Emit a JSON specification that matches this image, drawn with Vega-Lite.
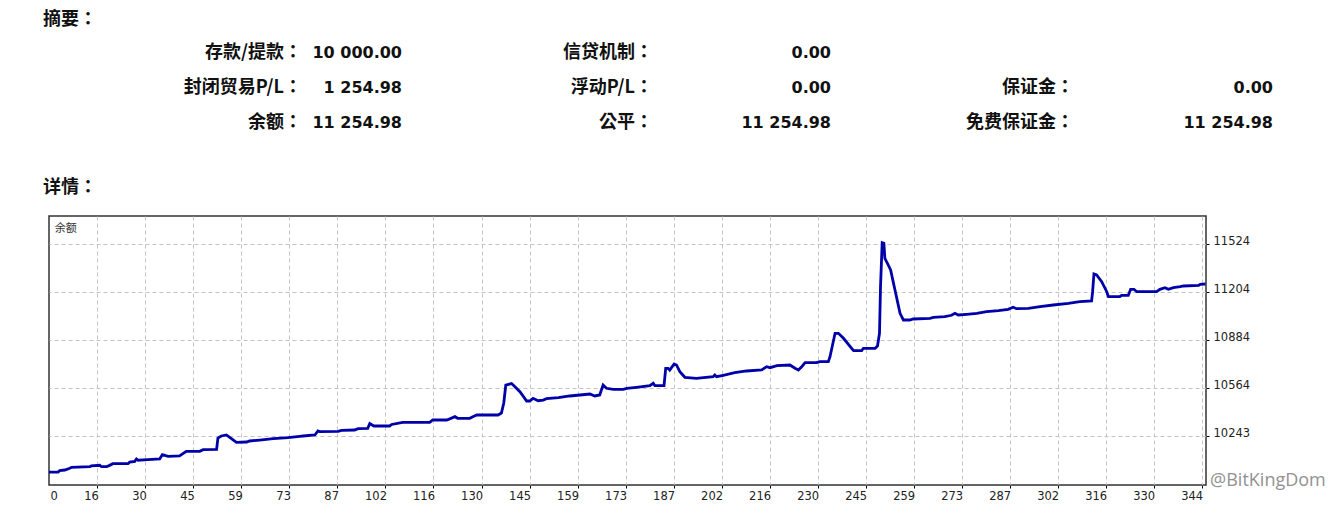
{
  "$schema": "https://vega.github.io/schema/vega-lite/v6.json",
  "width": 1157,
  "height": 269,
  "autosize": {"type": "none"},
  "padding": {"left": 49, "top": 216, "right": 138, "bottom": 30},
  "background": "white",
  "config": {"view": {"stroke": "#333333", "strokeWidth": 1.5}},
  "resolve": {"scale": {"x": "independent", "y": "independent"}},
  "layer": [
    {
      "layer": [
        {
          "data": {"values": [
            {"trade":1.6,"balance":10000},{"trade":4.3,"balance":10000},{"trade":4.8,"balance":10009.5},{"trade":6.3,"balance":10014},{"trade":7.8,"balance":10025.5},{"trade":8.3,"balance":10032},{"trade":13.7,"balance":10036},{"trade":14.2,"balance":10041},{"trade":16.7,"balance":10045.5},{"trade":17.2,"balance":10036},{"trade":18.7,"balance":10036},{"trade":19.6,"balance":10045},{"trade":20.6,"balance":10056},{"trade":25.1,"balance":10056},{"trade":25.6,"balance":10067.5},{"trade":27.1,"balance":10072},{"trade":27.6,"balance":10087.6},{"trade":28.1,"balance":10079},{"trade":31.0,"balance":10083},{"trade":34.5,"balance":10087.6},{"trade":35.3,"balance":10116},{"trade":36.0,"balance":10112},{"trade":37.0,"balance":10105.5},{"trade":40.4,"balance":10107.6},{"trade":42.4,"balance":10139},{"trade":46.4,"balance":10139},{"trade":47.4,"balance":10149.6},{"trade":51.4,"balance":10152},{"trade":51.8,"balance":10227.7},{"trade":52.8,"balance":10241},{"trade":54.3,"balance":10247.7},{"trade":55.8,"balance":10223},{"trade":57.3,"balance":10199},{"trade":60.3,"balance":10201},{"trade":61.2,"balance":10207.6},{"trade":64.2,"balance":10214},{"trade":68.2,"balance":10223},{"trade":72.6,"balance":10229.7},{"trade":76.1,"balance":10239},{"trade":77.1,"balance":10241},{"trade":80.6,"balance":10247.7},{"trade":81.5,"balance":10274.4},{"trade":82.0,"balance":10270},{"trade":87.5,"balance":10272.4},{"trade":88.5,"balance":10279},{"trade":92.4,"balance":10281},{"trade":93.4,"balance":10289.7},{"trade":96.3,"balance":10292},{"trade":96.9,"balance":10324.4},{"trade":98.1,"balance":10307.7},{"trade":102.8,"balance":10307.7},{"trade":103.4,"balance":10317.7},{"trade":106.7,"balance":10332.4},{"trade":114.7,"balance":10332.4},{"trade":115.6,"balance":10347.8},{"trade":119.8,"balance":10347.8},{"trade":122.2,"balance":10369.8},{"trade":123.0,"balance":10359},{"trade":126.6,"balance":10359},{"trade":127.5,"balance":10369.8},{"trade":128.7,"balance":10381},{"trade":135.0,"balance":10381},{"trade":136.0,"balance":10394.5},{"trade":136.7,"balance":10461},{"trade":137.3,"balance":10581},{"trade":139.0,"balance":10591},{"trade":139.5,"balance":10581},{"trade":141.5,"balance":10536.6},{"trade":143.5,"balance":10474.5},{"trade":144.4,"balance":10474.5},{"trade":145.4,"balance":10492.5},{"trade":146.9,"balance":10476.5},{"trade":148.4,"balance":10481},{"trade":149.4,"balance":10489.9},{"trade":152.9,"balance":10496.6},{"trade":156.3,"balance":10507.9},{"trade":162.3,"balance":10521.2},{"trade":163.7,"balance":10507.9},{"trade":165.2,"balance":10514.6},{"trade":166.2,"balance":10581},{"trade":167.2,"balance":10559.3},{"trade":169.2,"balance":10552.6},{"trade":172.2,"balance":10552.6},{"trade":173.2,"balance":10559.3},{"trade":176.1,"balance":10566},{"trade":180.1,"balance":10576.6},{"trade":181.1,"balance":10592.6},{"trade":181.6,"balance":10576.6},{"trade":184.3,"balance":10576.6},{"trade":184.8,"balance":10692.7},{"trade":185.5,"balance":10692.7},{"trade":186.0,"balance":10681.4},{"trade":187.3,"balance":10721.4},{"trade":188.0,"balance":10714.7},{"trade":189.0,"balance":10670},{"trade":190.5,"balance":10632.6},{"trade":193.9,"balance":10625.9},{"trade":198.9,"balance":10636.6},{"trade":199.4,"balance":10648},{"trade":199.9,"balance":10636.6},{"trade":201.9,"balance":10646},{"trade":205.3,"balance":10663.4},{"trade":208.8,"balance":10674.7},{"trade":213.3,"balance":10681.4},{"trade":214.8,"balance":10703.4},{"trade":215.8,"balance":10696.7},{"trade":217.8,"balance":10710},{"trade":221.7,"balance":10714.7},{"trade":223.2,"balance":10692.7},{"trade":224.2,"balance":10681.4},{"trade":225.2,"balance":10703.4},{"trade":226.2,"balance":10730},{"trade":229.6,"balance":10730},{"trade":230.6,"balance":10736.8},{"trade":233.1,"balance":10736.8},{"trade":233.6,"balance":10770},{"trade":235.1,"balance":10926.2},{"trade":236.1,"balance":10926.2},{"trade":237.6,"balance":10892.8},{"trade":239.6,"balance":10836.8},{"trade":240.6,"balance":10810},{"trade":243.0,"balance":10810},{"trade":243.5,"balance":10826},{"trade":247.0,"balance":10826},{"trade":247.7,"balance":10841.5},{"trade":248.3,"balance":10926},{"trade":248.6,"balance":11237},{"trade":249.1,"balance":11530.7},{"trade":249.6,"balance":11526.7},{"trade":249.9,"balance":11426.6},{"trade":250.9,"balance":11381.9},{"trade":251.6,"balance":11348.6},{"trade":252.9,"balance":11215},{"trade":254.4,"balance":11059.7},{"trade":255.4,"balance":11015},{"trade":257.3,"balance":11015},{"trade":258.3,"balance":11021.6},{"trade":263.3,"balance":11026.3},{"trade":264.3,"balance":11033},{"trade":267.7,"balance":11037},{"trade":269.7,"balance":11046.3},{"trade":270.7,"balance":11059.7},{"trade":271.7,"balance":11048.3},{"trade":274.2,"balance":11053},{"trade":277.2,"balance":11059.7},{"trade":280.1,"balance":11070.3},{"trade":283.6,"balance":11077},{"trade":286.5,"balance":11086.4},{"trade":288.0,"balance":11099.7},{"trade":289.0,"balance":11090.4},{"trade":292.5,"balance":11093},{"trade":296.0,"balance":11103.7},{"trade":299.9,"balance":11115},{"trade":304.4,"balance":11126.4},{"trade":307.8,"balance":11137},{"trade":311.3,"balance":11141.7},{"trade":311.6,"balance":11203.8},{"trade":312.0,"balance":11321.9},{"trade":312.8,"balance":11315.2},{"trade":314.3,"balance":11270.5},{"trade":315.8,"balance":11203.8},{"trade":316.3,"balance":11170.4},{"trade":319.7,"balance":11170.4},{"trade":320.2,"balance":11179.7},{"trade":322.2,"balance":11179.7},{"trade":322.9,"balance":11219.7},{"trade":323.9,"balance":11219.7},{"trade":324.7,"balance":11203.8},{"trade":330.6,"balance":11203.8},{"trade":331.6,"balance":11219.7},{"trade":333.1,"balance":11230.5},{"trade":334.1,"balance":11219.7},{"trade":335.6,"balance":11230.5},{"trade":337.6,"balance":11237.1},{"trade":338.6,"balance":11241.8},{"trade":343.1,"balance":11246.5},{"trade":343.6,"balance":11253.2},{"trade":345.1,"balance":11254.98}
          ]},
          "mark": {"type": "line", "color": "#0000A8", "strokeWidth": 2.8},
          "encoding": {
            "x": {
              "field": "trade", "type": "quantitative",
              "scale": {"domain": [1.62, 345.28], "nice": false, "zero": false},
              "axis": {
                "title": null,
                "values": [1.62, 16.0, 30.26, 44.52, 58.78, 73.04, 87.30, 101.56, 115.82, 130.09, 144.35, 158.61, 172.87, 187.13, 201.39, 215.65, 229.91, 244.17, 258.43, 272.69, 286.95, 301.21, 315.47, 329.74, 344.0],
                "labelExpr": "['0','16','30','45','59','73','87','102','116','130','145','159','173','187','202','216','230','245','259','273','287','302','316','330','344'][round((datum.value - 1.739) / 14.2607)]",
                "labelAlign": {"condition": {"test": "datum.value < 5", "value": "left"}, "value": "right"},
                "labelFlush": false,
                "labelOverlap": false,
                "labelFont": "DejaVu Sans",
                "labelFontSize": 11.5,
                "labelColor": "#222222",
                "labelPadding": 2,
                "labelOffset": 1,
                "labelBaseline": "top",
                "tickSize": 3,
                "tickColor": {"condition": {"test": "datum.value < 5", "value": "transparent"}, "value": "#000000"},
                "domain": false,
                "grid": true,
                "gridColor": {"condition": {"test": "datum.value < 5", "value": "transparent"}, "value": "#c4c4c4"},
                "gridDash": [4, 3],
                "gridWidth": 1
              }
            },
            "y": {
              "field": "balance", "type": "quantitative",
              "scale": {"domain": [9914, 11708.8], "nice": false, "zero": false},
              "axis": {
                "title": null,
                "orient": "right",
                "values": [10243, 10564, 10884, 11204, 11524],
                "format": "d",
                "labelFont": "DejaVu Sans",
                "labelFontSize": 11.5,
                "labelColor": "#222222",
                "labelPadding": 4,
                "labelOffset": -2,
                "tickSize": 3,
                "tickColor": "#000000",
                "domain": false,
                "grid": true,
                "gridColor": "#c4c4c4",
                "gridDash": [4, 3],
                "gridWidth": 1
              }
            }
          }
        },
        {
          "data": {"values": [{"name": "余额"}]},
          "mark": {"type": "text", "align": "left", "baseline": "middle", "font": "Noto Sans CJK SC", "fontSize": 11, "color": "#333333"},
          "encoding": {
            "x": {"datum": 3.3, "type": "quantitative"},
            "y": {"datum": 11622, "type": "quantitative"},
            "text": {"field": "name"}
          }
        },
        {
          "data": {"values": [{"mark": "@BitKingDom"}]},
          "mark": {"type": "text", "align": "left", "baseline": "middle", "font": "Open Sans", "fontSize": 18, "color": "#808080", "opacity": 0.85},
          "encoding": {
            "x": {"datum": 346.5, "type": "quantitative"},
            "y": {"datum": 9941, "type": "quantitative"},
            "text": {"field": "mark"}
          }
        }
      ]
    },
    {
      "data": {"values": [{"title": "摘要：", "row": 0}, {"title": "详情：", "row": 1}]},
      "mark": {"type": "text", "align": "left", "baseline": "middle", "font": "Noto Sans CJK TC", "fontWeight": "bold", "fontSize": 18, "color": "#111111"},
      "encoding": {
        "x": {"datum": 0, "type": "quantitative", "scale": {"domain": [0, 1], "range": [-6, 100], "nice": false, "zero": false}, "axis": null},
        "y": {"field": "row", "type": "quantitative", "scale": {"domain": [0, 1], "range": [-196, -28], "nice": false, "zero": false}, "axis": null},
        "text": {"field": "title"}
      }
    },
    {
      "data": {"name": "summary", "values": [
        {"row": 1, "col": 1, "label": "存款/提款：", "value": "10 000.00"},
        {"row": 1, "col": 2, "label": "信贷机制：", "value": "0.00"},
        {"row": 2, "col": 1, "label": "封闭贸易P/L：", "value": "1 254.98"},
        {"row": 2, "col": 2, "label": "浮动P/L：", "value": "0.00"},
        {"row": 2, "col": 3, "label": "保证金：", "value": "0.00"},
        {"row": 3, "col": 1, "label": "余额：", "value": "11 254.98"},
        {"row": 3, "col": 2, "label": "公平：", "value": "11 254.98"},
        {"row": 3, "col": 3, "label": "免费保证金：", "value": "11 254.98"}
      ]},
      "layer": [
        {
          "mark": {"type": "text", "align": "right", "baseline": "middle", "font": "Noto Sans CJK TC", "fontWeight": "bold", "fontSize": 18, "color": "#111111"},
          "encoding": {
            "x": {"field": "col", "type": "quantitative", "scale": {"domain": [1, 2, 3], "range": [253, 604, 1025], "nice": false, "zero": false}, "axis": null},
            "y": {"field": "row", "type": "quantitative", "scale": {"domain": [1, 2, 3], "range": [-163, -128.5, -93], "nice": false, "zero": false}, "axis": null},
            "text": {"field": "label"}
          }
        },
        {
          "mark": {"type": "text", "align": "right", "baseline": "middle", "font": "DejaVu Sans", "fontWeight": "bold", "fontSize": 16, "color": "#111111"},
          "encoding": {
            "x": {"field": "col", "type": "quantitative", "scale": {"domain": [1, 2, 3], "range": [353, 782, 1224], "nice": false, "zero": false}, "axis": null},
            "y": {"field": "row", "type": "quantitative", "scale": {"domain": [1, 2, 3], "range": [-163, -128.5, -93], "nice": false, "zero": false}, "axis": null},
            "text": {"field": "value"}
          }
        }
      ],
      "resolve": {"scale": {"x": "independent"}}
    }
  ]
}
